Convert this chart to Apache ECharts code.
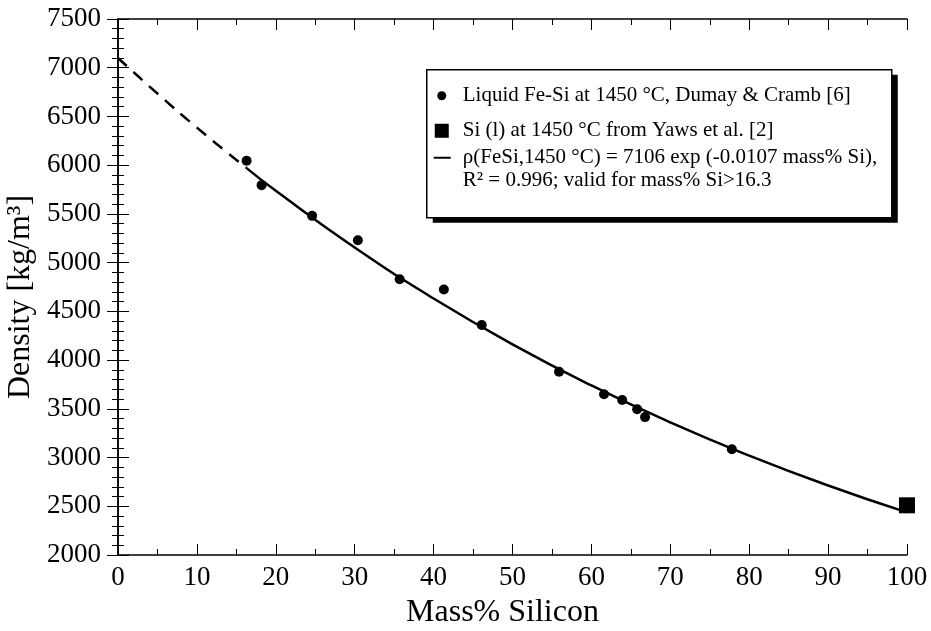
<!DOCTYPE html>
<html>
<head>
<meta charset="utf-8" />
<title>Density of liquid Fe-Si</title>
<script src="https://cdn.jsdelivr.net/npm/echarts@6/dist/echarts.min.js"></script>
<style>
  html, body { margin: 0; padding: 0; background: #fff; }
  #main { width: 931px; height: 631px; }
</style>
</head>
<body>
<div id="main"></div>
<script type="text/javascript">
// measured points, Dumay & Cramb (mass% Si, kg/m3)
var feSiX = [16.3, 18.2, 24.6, 30.4, 35.7, 41.3, 46.1, 55.9, 61.6, 63.9, 65.8, 66.8, 77.8];
var feSiY = [6045, 5795, 5480, 5230, 4830, 4725, 4360, 3880, 3650, 3590, 3495, 3415, 3085];
// pure Si, Yaws et al.
var siX = [100];
var siY = [2510];
// fitted curve (dashed below 16.3, solid above)
var dashX = [0, 5, 10, 16.3];
var dashY = [7100, 6735, 6385, 5970];
var fitX = [16.3, 20, 30, 40, 50, 60, 70, 80, 90, 100];
var fitY = [5970, 5737, 5155, 4632, 4162, 3740, 3360, 3020, 2713, 2437];

var xTicks = [0, 10, 20, 30, 40, 50, 60, 70, 80, 90, 100];
var yTicks = [2000, 2500, 3000, 3500, 4000, 4500, 5000, 5500, 6000, 6500, 7000, 7500];

function pairs(xs, ys) {
    var out = [];
    for (var i = 0; i < xs.length; i++) out.push([xs[i], ys[i]]);
    return out;
}

var serif = 'Liberation Serif';
var myChart = echarts.init(document.getElementById('main'));

var xBase = {
    type: 'value',
    min: xTicks[0],
    max: xTicks[xTicks.length - 1],
    interval: 10,
    axisLine: { lineStyle: { color: '#000', width: 1.5 } },
    axisTick: { inside: true, length: 11, lineStyle: { color: '#000', width: 1 } },
    minorTick: { show: true, splitNumber: 2, length: 6, lineStyle: { color: '#000', width: 1 } },
    splitLine: { show: false },
    minorSplitLine: { show: false }
};
var yBase = {
    type: 'value',
    min: yTicks[0],
    max: yTicks[yTicks.length - 1],
    interval: 500,
    axisLine: { lineStyle: { color: '#000', width: 1.5 } },
    axisTick: { inside: true, length: 11, lineStyle: { color: '#000', width: 1 } },
    minorTick: { show: true, splitNumber: 5, length: 6, lineStyle: { color: '#000', width: 1 } },
    splitLine: { show: false },
    minorSplitLine: { show: false }
};

option = {
    backgroundColor: '#fff',
    animation: false,
    grid: { left: 118, top: 19, right: 24, bottom: 76, outerBoundsMode: 'none', containLabel: false },
    xAxis: [
        echarts.util.merge({
            position: 'bottom',
            name: 'Mass% Silicon',
            nameLocation: 'middle',
            nameGap: 42,
            nameTextStyle: { fontFamily: serif, fontSize: 32, color: '#000', padding: [0, 20, 0, 0] },
            axisLabel: { fontFamily: serif, fontSize: 27, color: '#000', margin: 9 }
        }, xBase, true),
        echarts.util.merge({
            position: 'top',
            axisLabel: { show: false }
        }, xBase, true)
    ],
    yAxis: [
        echarts.util.merge({
            position: 'left',
            name: 'Density [kg/m³]',
            nameLocation: 'middle',
            nameGap: 66,
            nameTextStyle: { fontFamily: serif, fontSize: 32, color: '#000', padding: [0, 20, 0, 0] },
            axisLabel: {
                fontFamily: serif, fontSize: 27, color: '#000', margin: 17,
                formatter: function (v) { return String(v); }
            }
        }, yBase, true),
        echarts.util.merge({
            position: 'right',
            axisLabel: { show: false }
        }, yBase, true)
    ],
    series: [
        {
            name: 'extrapolation',
            type: 'line',
            data: pairs(dashX, dashY),
            smooth: true,
            symbol: 'none',
            lineStyle: { color: '#000', width: 2.5, type: [12, 9] }
        },
        {
            name: 'fit',
            type: 'line',
            data: pairs(fitX, fitY),
            smooth: true,
            symbol: 'none',
            lineStyle: { color: '#000', width: 2.5 }
        },
        {
            name: 'Fe-Si',
            type: 'scatter',
            data: pairs(feSiX, feSiY),
            symbol: 'circle',
            symbolSize: 10,
            itemStyle: { color: '#000', opacity: 1 },
            z: 3
        },
        {
            name: 'Si',
            type: 'scatter',
            data: pairs(siX, siY),
            symbol: 'rect',
            symbolSize: 16,
            itemStyle: { color: '#000', opacity: 1 },
            z: 4
        }
    ],
    graphic: [
        {
            type: 'group',
            left: 426,
            top: 69,
            children: [
                { type: 'rect', shape: { x: 6, y: 5, width: 465, height: 148 }, style: { fill: '#000' } },
                { type: 'rect', shape: { x: 0, y: 0, width: 465, height: 148 },
                  style: { fill: '#fff', stroke: '#000', lineWidth: 1.5 } },
                { type: 'circle', shape: { cx: 15, cy: 26, r: 4.5 }, style: { fill: '#000' } },
                { type: 'text', x: 36, y: 26, style: { text: 'Liquid Fe-Si at 1450 °C, Dumay & Cramb [6]',
                  font: '21px "Liberation Serif"', fill: '#000', verticalAlign: 'middle' } },
                { type: 'rect', shape: { x: 8, y: 54, width: 14, height: 14 }, style: { fill: '#000' } },
                { type: 'text', x: 36, y: 61, style: { text: 'Si (l) at 1450 °C from Yaws et al. [2]',
                  font: '21px "Liberation Serif"', fill: '#000', verticalAlign: 'middle' } },
                { type: 'line', shape: { x1: 7, y1: 88, x2: 24, y2: 88 }, style: { stroke: '#000', lineWidth: 2 } },
                { type: 'text', x: 36, y: 88, style: { text: 'ρ(FeSi,1450 °C) = 7106 exp (-0.0107 mass% Si),',
                  font: '21px "Liberation Serif"', fill: '#000', verticalAlign: 'middle' } },
                { type: 'text', x: 36, y: 111, style: { text: 'R² = 0.996; valid for mass% Si>16.3',
                  font: '21px "Liberation Serif"', fill: '#000', verticalAlign: 'middle' } }
            ]
        }
    ]
};
myChart.setOption(option);
</script>
</body>
</html>
